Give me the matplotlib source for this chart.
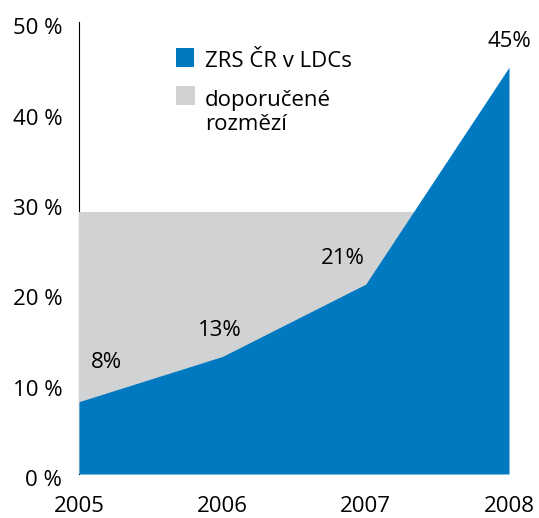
import matplotlib
matplotlib.use("Agg")
import matplotlib.pyplot as plt
from matplotlib.patches import Rectangle
from matplotlib.transforms import ScaledTranslation

years = [2005, 2006, 2007, 2008]
zrs_values = [8, 13, 21, 45]
value_labels = ["8%", "13%", "21%", "45%"]
recommended = [29, 29, 29, 29]
y_ticks = [0, 10, 20, 30, 40, 50]
y_tick_labels = ["0 %", "10 %", "20 %", "30 %", "40 %", "50 %"]
legend_labels = ["ZRS ČR v LDCs", "doporučené\nrozmězí"]

blue = "#0079C1"
grey = "#D1D2D4"
FS = 16
W, H = 539, 518

plt.rcParams['font.family'] = ['Open Sans', 'DejaVu Sans']

fig = plt.figure(figsize=(W/100, H/100), dpi=100)
ax = fig.add_axes([79/W, 1-474/H, 430/W, 452/H])

ax.fill_between(years, 0, recommended, color=grey, lw=0, zorder=3)
ax.fill_between(years, 0, zrs_values, color=blue, lw=0, zorder=4)

ax.set_xlim(years[0], years[-1])
ax.set_ylim(0, 50)
ax.set_yticks(y_ticks)
ax.set_yticklabels(y_tick_labels)
ax.set_xticks(years)
ax.set_xticklabels([str(y) for y in years])
ax.tick_params(axis='both', length=0, labelsize=FS)
ax.tick_params(axis='y', pad=12)
ax.tick_params(axis='x', pad=16)
shift = ScaledTranslation(0, -3/72, fig.dpi_scale_trans)
for lab in ax.get_yticklabels():
    lab.set_transform(lab.get_transform() + shift)
for s in ['top', 'right', 'bottom']:
    ax.spines[s].set_visible(False)
ax.spines['left'].set_linewidth(0.8)
ax.spines['left'].set_zorder(1)

offsets = [(0.19, 3.7), (-0.02, 2.3), (-0.16, 2.2), (0.0, 2.2)]
for x, v, lab, (dx, dy) in zip(years, zrs_values, value_labels, offsets):
    ax.text(x + dx, v + dy, lab, ha='center', va='baseline', fontsize=FS, zorder=5)

# legend (manual, to keep the swatch aligned with the first label line)
swatches = [(176, 48, 18, 19, blue), (176, 86, 19, 19, grey)]
first_baselines = [67, 106]
line_step = 24
for (sx, sy, sw, sh, col), label, base in zip(swatches, legend_labels, first_baselines):
    fig.patches.append(Rectangle((sx/W, 1-(sy+sh)/H), sw/W, sh/H, color=col, lw=0,
                                 transform=fig.transFigure, figure=fig))
    for i, line in enumerate(label.split("\n")):
        fig.text(205/W, 1-(base + i*line_step)/H, line, ha='left', va='baseline', fontsize=FS)

fig.savefig("out.png", dpi=100)
